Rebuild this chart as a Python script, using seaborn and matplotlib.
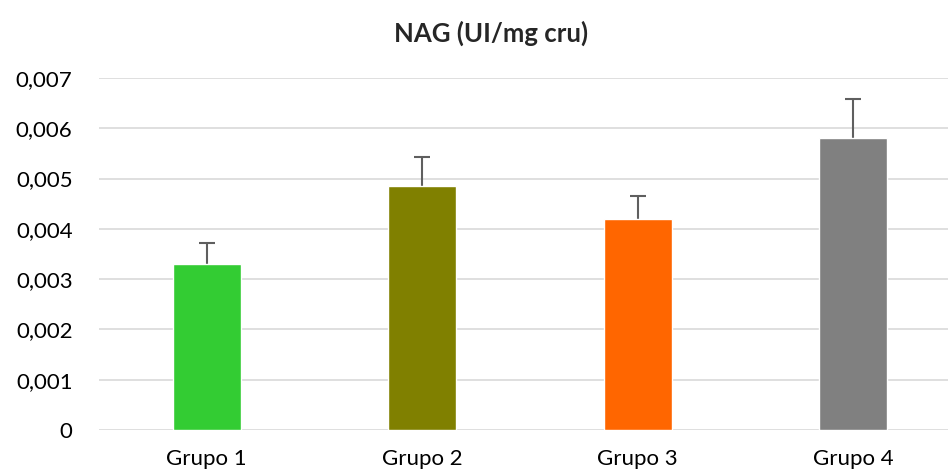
import matplotlib
matplotlib.use('Agg')
import matplotlib.pyplot as plt
import seaborn as sns
import pandas as pd
from matplotlib.ticker import FuncFormatter

# values
grupos = ['Grupo 1', 'Grupo 2', 'Grupo 3', 'Grupo 4']
media = [0.0033, 0.00485, 0.0042, 0.0058]
erro = [0.00042, 0.00058, 0.00046, 0.00078]
cores = ['#33cc33', '#808000', '#ff6600', '#808080']

df = pd.DataFrame({'grupo': grupos, 'nag': media})

sns.set_style('white')
plt.rcParams['font.family'] = ['Lato', 'DejaVu Sans']

fig = plt.figure(figsize=(9.48, 4.76), dpi=100)
ax = fig.add_axes([99/948, 1 - 430/476, 1 - 99/948, 352/476])

sns.barplot(data=df, x='grupo', y='nag', hue='grupo', palette=cores,
            width=0.315, legend=False, ax=ax, zorder=3, saturation=1)
# error bars behind the bars, so only the upper half shows
ax.errorbar(range(len(grupos)), media, yerr=[erro, erro], fmt='none',
            ecolor='#5f5f5f', elinewidth=1.5, capsize=6, capthick=1.5, zorder=2)

ax.set_ylim(0, 0.007)
ax.set_xlim(-0.5, 3.44)
ax.set_yticks([i/1000 for i in range(8)])
ax.yaxis.set_major_formatter(FuncFormatter(lambda v, p: '0' if v == 0 else f'{v:.3f}'.replace('.', ',')))
ax.grid(axis='y', color='#d9d9d9', linewidth=1.2, zorder=0)
ax.set_axisbelow(True)
for s in ax.spines.values():
    s.set_visible(False)
ax.tick_params(axis='both', length=0, labelsize=16, colors='#000000')
ax.tick_params(axis='y', pad=19)
ax.tick_params(axis='x', pad=14)
ax.set_xlabel('')
ax.set_ylabel('')
ax.set_title('NAG (UI/mg cru)', fontsize=18.5, fontweight='bold', pad=26, x=0.462)

fig.savefig('out.png', dpi=100)
